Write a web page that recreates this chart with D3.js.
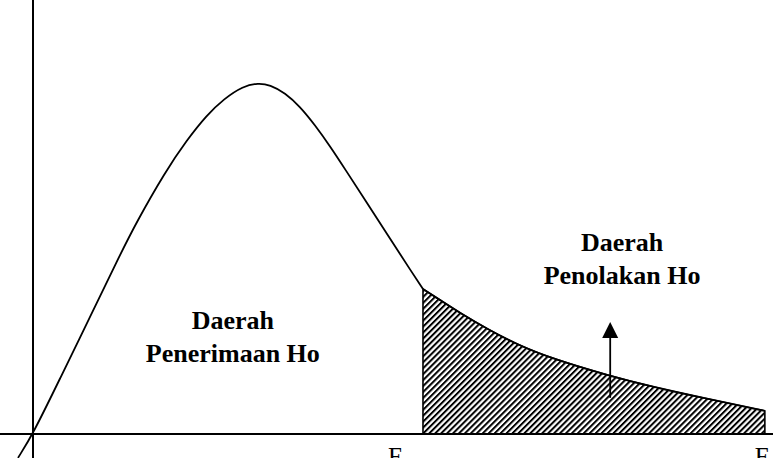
<!DOCTYPE html>
<html>
<head>
<meta charset="utf-8">
<script src="https://cdn.jsdelivr.net/npm/d3@7"></script>
<style>
  html, body { margin: 0; padding: 0; background: #fff; }
  svg { display: block; }
</style>
</head>
<body>
<div id="chart"></div>
<script>
// ---- data (arbitrary F-units / density units) ----
const curveX = [-2.03, 0, 3.65, 7.70, 11.49, 13.92, 17.84, 20.81, 23.51, 25.81, 28.38, 30.41, 32.03, 34.05, 36.08, 38.11, 40.14, 42.16, 45.14, 48.24, 51.22, 52.70, 55.0, 57.7, 61.4, 65.8, 70.3, 78.0, 83.8, 90.5, 98.9];
const curveY = [-0.068, 0, 0.158, 0.333, 0.499, 0.601, 0.746, 0.838, 0.909, 0.955, 0.991, 1.0, 0.995, 0.972, 0.933, 0.880, 0.820, 0.755, 0.658, 0.557, 0.460, 0.413, 0.382, 0.345, 0.299, 0.251, 0.214, 0.165, 0.134, 0.103, 0.066];
const fTabel = 52.7;      // critical value (start of rejection region)
const fHitung = 98.9;     // computed F
const arrowX = 78.0;
const arrowFrom = 0.103;
const arrowTo = 0.319;
const regionLabels = [
  { lines: ["Daerah", "Penerimaan Ho"], x: 27.0, y: 0.30 },
  { lines: ["Daerah", "Penolakan Ho"], x: 79.6, y: 0.52 }
];
const axisLabels = [
  { main: "F", sub: "tabel", x: fTabel, dx: -35 },
  { main: "F", sub: "hitung", x: fHitung, dx: -10 }
];

// ---- drawing ----
const W = 780, H = 458;
const svg = d3.select("#chart").append("svg").attr("width", W).attr("height", H);

const x = d3.scaleLinear().domain([0, 100]).range([33, 773]);
const y = d3.scaleLinear().domain([0, 1]).range([434, 83]);

const pts = curveX.map((v, i) => ({ x: v, y: curveY[i] }));
const head = pts.filter(d => d.x <= fTabel);
const tail = pts.filter(d => d.x >= fTabel);

// hatch pattern
const defs = svg.append("defs");
const pat = defs.append("pattern")
  .attr("id", "hatch")
  .attr("patternUnits", "userSpaceOnUse")
  .attr("width", 4.2).attr("height", 4.2)
  .attr("patternTransform", "rotate(45)");
pat.append("rect").attr("width", 4.2).attr("height", 4.2).attr("fill", "#fff");
pat.append("rect").attr("width", 2.0).attr("height", 4.2).attr("fill", "#000");

// rejection region (hatched area)
const area = d3.area().x(d => x(d.x)).y0(y(0)).y1(d => y(d.y)).curve(d3.curveBasis);
svg.append("path")
  .datum(tail)
  .attr("d", area)
  .attr("fill", "url(#hatch)")
  .attr("stroke", "#000")
  .attr("stroke-width", 1.6);

// axes
const xAxis = d3.axisBottom(x).tickValues([]).tickSizeOuter(0);
svg.append("g").attr("transform", `translate(0,${y(0)})`).call(xAxis)
  .select(".domain").attr("d", `M0,0H${x(100)}`).attr("stroke", "#000").attr("stroke-width", 2);
const yAxis = d3.axisLeft(y).tickValues([]).tickSizeOuter(0);
svg.append("g").attr("transform", `translate(${x(0)},0)`).call(yAxis)
  .select(".domain").attr("d", `M0,0V${H}`).attr("stroke", "#000").attr("stroke-width", 2);

// curve (acceptance part + tail)
const line = d3.line().x(d => x(d.x)).y(d => y(d.y)).curve(d3.curveBasis);
[head, tail].forEach(seg => {
  svg.append("path")
    .datum(seg)
    .attr("d", line)
    .attr("fill", "none")
    .attr("stroke", "#000")
    .attr("stroke-width", 1.8);
});

// arrow
svg.append("line")
  .attr("x1", x(arrowX)).attr("x2", x(arrowX))
  .attr("y1", y(arrowFrom)).attr("y2", y(arrowTo) + 12)
  .attr("stroke", "#000").attr("stroke-width", 1.8);
const ax = x(arrowX), ay = y(arrowTo);
svg.append("path")
  .attr("d", `M${ax},${ay}L${ax - 8},${ay + 16}L${ax + 8},${ay + 16}Z`)
  .attr("fill", "#000");

// region labels
regionLabels.forEach(l => {
  const t = svg.append("text")
    .attr("x", x(l.x)).attr("y", y(l.y))
    .attr("text-anchor", "middle")
    .attr("font-family", "'Liberation Serif', 'Times New Roman', serif")
    .attr("font-weight", "bold")
    .attr("font-size", 26);
  l.lines.forEach((s, i) => {
    t.append("tspan").attr("x", x(l.x)).attr("dy", i === 0 ? 0 : 33).text(s);
  });
});

// axis labels (F tabel, F hitung) — partially cut by the bottom edge, as in the reference
axisLabels.forEach(l => {
  const t = svg.append("text")
    .attr("x", x(l.x) + l.dx).attr("y", 465)
    .attr("font-family", "'Liberation Serif', 'Times New Roman', serif")
    .attr("font-size", 25);
  t.append("tspan").text(l.main);
  t.append("tspan").attr("font-size", 16).attr("dy", 5).text(l.sub);
});
</script>
</body>
</html>
